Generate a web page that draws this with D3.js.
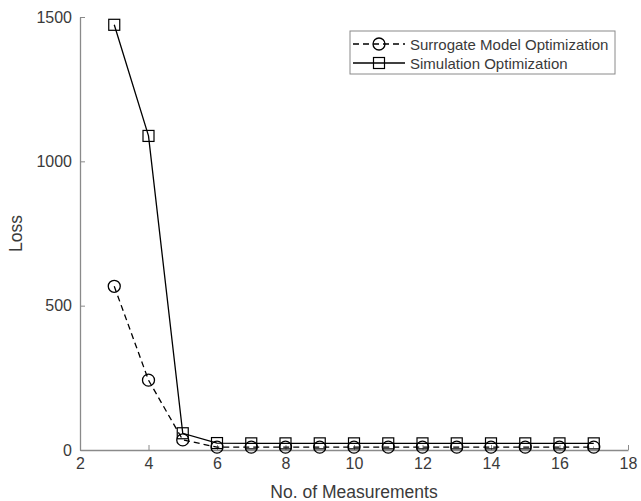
<!DOCTYPE html>
<html>
<head>
<meta charset="utf-8">
<script src="https://cdn.jsdelivr.net/npm/d3@7"></script>
<style>
  body { margin: 0; background: #fff; }
  text { font-family: "Liberation Sans", Arial, sans-serif; }
</style>
</head>
<body>
<div class="canva"></div>
<script>
const measurements = [3, 4, 5, 6, 7, 8, 9, 10, 11, 12, 13, 14, 15, 16, 17];
const surrogateLoss = [567, 242, 35, 10, 10, 10, 10, 10, 10, 10, 10, 10, 10, 10, 10];
const simulationLoss = [1473, 1088, 58, 24, 23, 23, 23, 23, 23, 23, 23, 23, 23, 23, 23];
const xTicks = [2, 4, 6, 8, 10, 12, 14, 16, 18];
const yTicks = [0, 500, 1000, 1500];
const seriesNames = ["Surrogate Model Optimization", "Simulation Optimization"];

const width = 641, height = 501;
const margin = {left: 80, right: 13, top: 17, bottom: 51};

const svg = d3.select(".canva").append("svg")
    .attr("width", width)
    .attr("height", height);

const x = d3.scaleLinear()
    .domain([2, 18])
    .range([margin.left, width - margin.right]);

const y = d3.scaleLinear()
    .domain([0, 1500])
    .range([height - margin.bottom, margin.top]);

const axisColor = "#8a8a8a";
const textColor = "#3a3a3a";

// axes (ticks point inward like matlab)
const xAxis = svg.append("g")
    .attr("transform", `translate(0,${y(0)})`)
    .call(d3.axisBottom(x).tickValues(xTicks).tickFormat(d3.format("d"))
        .tickSizeInner(-5).tickSizeOuter(0).tickPadding(8));

const yAxis = svg.append("g")
    .attr("transform", `translate(${x(2)},0)`)
    .call(d3.axisLeft(y).tickValues(yTicks).tickFormat(d3.format("d"))
        .tickSizeInner(-5).tickSizeOuter(0).tickPadding(8));

[xAxis, yAxis].forEach(g => {
    g.select(".domain").attr("stroke", axisColor).attr("stroke-width", 1.3);
    g.selectAll(".tick line").attr("stroke", axisColor);
    g.selectAll(".tick text").attr("fill", textColor).style("font-size", "16px");
});

svg.append("text")
    .attr("x", (x(2) + x(18)) / 2)
    .attr("y", 498)
    .attr("text-anchor", "middle")
    .attr("fill", textColor)
    .style("font-size", "17.5px")
    .text("No. of Measurements");

svg.append("text")
    .attr("transform", `translate(22,${(y(0) + y(1500)) / 2}) rotate(-90)`)
    .attr("text-anchor", "middle")
    .attr("fill", textColor)
    .style("font-size", "17.5px")
    .text("Loss");

const line = d3.line()
    .x(d => x(d[0]))
    .y(d => y(d[1]));

const simData = measurements.map((m, i) => [m, simulationLoss[i]]);
const surData = measurements.map((m, i) => [m, surrogateLoss[i]]);

svg.append("path")
    .datum(simData)
    .attr("d", line)
    .attr("fill", "none")
    .attr("stroke", "#000")
    .attr("stroke-width", 1.3);

svg.append("path")
    .datum(surData)
    .attr("d", line)
    .attr("fill", "none")
    .attr("stroke", "#000")
    .attr("stroke-width", 1.3)
    .attr("stroke-dasharray", "6,4");

svg.selectAll(".sq")
    .data(simData)
    .enter().append("rect")
    .attr("x", d => x(d[0]) - 5.5)
    .attr("y", d => y(d[1]) - 5.5)
    .attr("width", 11)
    .attr("height", 11)
    .attr("fill", "none")
    .attr("stroke", "#000")
    .attr("stroke-width", 1.2);

svg.selectAll(".circ")
    .data(surData)
    .enter().append("circle")
    .attr("cx", d => x(d[0]))
    .attr("cy", d => y(d[1]))
    .attr("r", 6)
    .attr("fill", "none")
    .attr("stroke", "#000")
    .attr("stroke-width", 1.3);

// legend
const legend = svg.append("g");
legend.append("rect")
    .attr("x", 350).attr("y", 31)
    .attr("width", 265).attr("height", 43)
    .attr("fill", "#fff")
    .attr("stroke", axisColor)
    .attr("stroke-width", 1);

const ly = [44, 63];
legend.append("line")
    .attr("x1", 353).attr("x2", 405).attr("y1", ly[0]).attr("y2", ly[0])
    .attr("stroke", "#000").attr("stroke-width", 1.3).attr("stroke-dasharray", "6,4");
legend.append("circle")
    .attr("cx", 379).attr("cy", ly[0]).attr("r", 6)
    .attr("fill", "none").attr("stroke", "#000").attr("stroke-width", 1.3);
legend.append("line")
    .attr("x1", 353).attr("x2", 405).attr("y1", ly[1]).attr("y2", ly[1])
    .attr("stroke", "#000").attr("stroke-width", 1.3);
legend.append("rect")
    .attr("x", 379 - 5.5).attr("y", ly[1] - 5.5).attr("width", 11).attr("height", 11)
    .attr("fill", "none").attr("stroke", "#000").attr("stroke-width", 1.2);

legend.selectAll(".lt")
    .data(seriesNames)
    .enter().append("text")
    .attr("x", 410)
    .attr("y", (d, i) => ly[i] + 5.5)
    .attr("fill", textColor)
    .style("font-size", "15px")
    .text(d => d);
</script>
</body>
</html>
